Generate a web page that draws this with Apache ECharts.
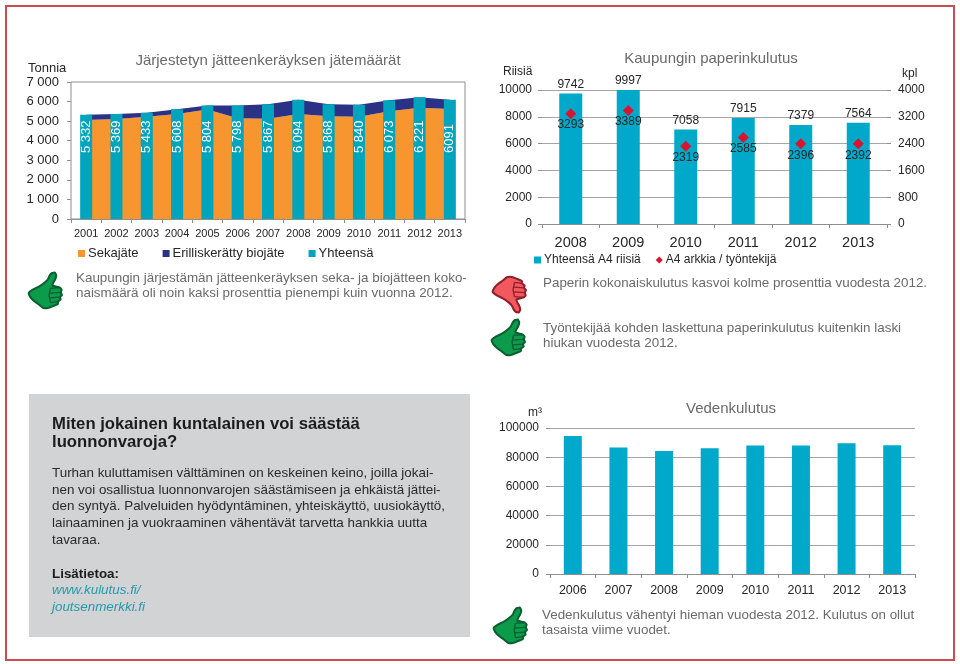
<!DOCTYPE html>
<html>
<head>
<meta charset="utf-8">
<title>Kulutus</title>
<script src="https://cdn.jsdelivr.net/npm/echarts@6/dist/echarts.min.js"></script>
<style>
  html, body { margin: 0; padding: 0; background: #fff; }
  #main { width: 960px; height: 664px; }
</style>
</head>
<body>
<div id="main"></div>
<script>
// jätemäärät
const wasteYears = ['2001', '2002', '2003', '2004', '2005', '2006', '2007', '2008', '2009', '2010', '2011', '2012', '2013'];
const mixedWaste = [5060, 5110, 5230, 5370, 5600, 5150, 5120, 5370, 5250, 5230, 5500, 5680, 5620];
const bioWaste = [272, 259, 203, 238, 204, 648, 747, 724, 618, 610, 573, 541, 471];
const wasteTotal = [5332, 5369, 5433, 5608, 5804, 5798, 5867, 6094, 5868, 5840, 6073, 6221, 6091];
const wasteTotalLabels = ['5 332', '5 369', '5 433', '5 608', '5 804', '5 798', '5 867', '6 094', '5 868', '5 840', '6 073', '6 221', '6091'];

// paperi
const paperYears = ['2008', '2009', '2010', '2011', '2012', '2013'];
const paperReams = [9742, 9997, 7058, 7915, 7379, 7564];
const sheetsPerWorker = [3293, 3389, 2319, 2585, 2396, 2392];

// vesi
const waterYears = ['2006', '2007', '2008', '2009', '2010', '2011', '2012', '2013'];
const waterUse = [94500, 86600, 84300, 86100, 88000, 88000, 89500, 88200];

const FONT = '"Liberation Sans", Arial, sans-serif';
const BLUE = '#00a9c9';
const TEAL = '#00a5bd';
const ORANGE = '#f7952f';
const NAVY = '#2b3184';
const AXIS = '#8f8f8f';
const GRID = '#a6a6a6';
const INK = '#262626';
const GREY = '#6a6a6a';

const spaced = (v) => String(v).replace(/\B(?=(\d{3})+$)/g, ' ');

function catAxis(gridIndex, data, fontSize, margin) {
  return {
    type: 'category', gridIndex, data,
    axisLine: { lineStyle: { color: AXIS } },
    axisTick: { show: true, alignWithLabel: false, length: 4, lineStyle: { color: AXIS } },
    axisLabel: { color: INK, fontFamily: FONT, fontSize, margin, interval: 0 }
  };
}

function valAxis(gridIndex, max, interval, fontSize, margin, extra) {
  return Object.assign({
    type: 'value', gridIndex, min: 0, max, interval,
    axisLine: { show: false },
    axisTick: { show: true, length: 4, lineStyle: { color: AXIS } },
    axisLabel: { color: INK, fontFamily: FONT, fontSize, margin, formatter: (v) => String(v) },
    splitLine: { show: true, lineStyle: { color: GRID } }
  }, extra || {});
}

function titleAt(text, left, top) {
  return { text, left, top, textAlign: 'center', textStyle: { color: GREY, fontFamily: FONT, fontSize: 15, fontWeight: 'normal' } };
}

function textLine(text, x, y, font, fill) {
  return { type: 'text', silent: true, style: { text, x, y, font, fill: fill || GREY, textVerticalAlign: 'middle' } };
}

function textLines(lines, x, y, step, font, fill) {
  return lines.map((t, i) => textLine(t, x, y + i * step, font, fill));
}

// peukalon muoto, graphic ei tunne path-tyyppiä
const HAND = [[2, 62], [14, 52], [32, 43], [48, 32], [58, 22], [64, 10], [71, 3], [79, 2], [83, 10], [80, 22], [74, 32], [72, 40], [94, 46], [99, 52], [96, 60], [100, 67], [94, 74], [96, 81], [88, 87], [88, 94], [80, 98], [58, 106], [44, 105], [30, 94], [16, 84], [7, 74]];
const FINGERS = [
  [[66, 48], [94, 46]],
  [[64, 62], [96, 60]],
  [[64, 76], [94, 74]],
  [[66, 90], [88, 87]],
  [[66, 48], [62, 68], [66, 90]]
];

function thumb(x, y, down) {
  const fill = down ? '#f1595f' : '#0b9b4b';
  const stroke = down ? '#8f1f2b' : '#0b5f30';
  return {
    type: 'group', x, y: down ? y + 36 : y, scaleX: 0.34, scaleY: down ? -0.34 : 0.34, silent: true,
    children: [
      { type: 'polygon', shape: { points: HAND, smooth: 0.15 }, style: { fill, stroke, lineWidth: 6 } },
      ...FINGERS.map((points) => ({ type: 'polyline', shape: { points }, style: { fill: 'none', stroke, lineWidth: 4 } }))
    ]
  };
}

const P13 = '13.4px ' + FONT;

const option = {
  animation: false,
  backgroundColor: '#fff',
  textStyle: { fontFamily: FONT },
  title: [
    titleAt('Järjestetyn jätteenkeräyksen jätemäärät', 263, 48),
    titleAt('Kaupungin paperinkulutus', 706, 46),
    titleAt('Vedenkulutus', 726, 396)
  ],
  legend: [
    {
      left: 73, top: 242, itemWidth: 7, itemHeight: 7, itemGap: 24, icon: 'rect',
      textStyle: { color: INK, fontFamily: FONT, fontSize: 13, padding: [0, 0, 0, -2] },
      data: ['Sekajäte', 'Erilliskerätty biojäte', 'Yhteensä']
    },
    {
      left: 529, top: 249, itemWidth: 7, itemHeight: 7, itemGap: 15,
      textStyle: { color: INK, fontFamily: FONT, fontSize: 12, padding: [0, 0, 0, -2] },
      data: [{ name: 'Yhteensä A4 riisiä', icon: 'rect' }, { name: 'A4 arkkia / työntekijä', icon: 'diamond' }]
    }
  ],
  grid: [
    { left: 71, right: 495, top: 82, height: 137, show: true, borderColor: AXIS, borderWidth: 1, backgroundColor: 'transparent' },
    { left: 542, right: 73, top: 90, height: 134 },
    { left: 550, right: 45, top: 428, height: 146 }
  ],
  xAxis: [
    catAxis(0, wasteYears, 11, 9),
    catAxis(1, paperYears, 14.5, 11),
    catAxis(2, waterYears, 12.5, 10)
  ],
  yAxis: [
    valAxis(0, 7000, 1000, 13, 12, {
      splitLine: { show: false },
      axisLabel: { color: INK, fontFamily: FONT, fontSize: 13, margin: 12, formatter: spaced }
    }),
    valAxis(1, 10000, 2000, 12, 10),
    valAxis(1, 4000, 800, 12, 11, { position: 'right', splitLine: { show: false } }),
    valAxis(2, 100000, 20000, 12, 11)
  ],
  series: [
    {
      name: 'Sekajäte', type: 'line', xAxisIndex: 0, yAxisIndex: 0, stack: 'jate', data: mixedWaste,
      symbol: 'none', lineStyle: { width: 0 }, areaStyle: { color: ORANGE, opacity: 1 }, itemStyle: { color: ORANGE }, z: 2
    },
    {
      name: 'Erilliskerätty biojäte', type: 'line', xAxisIndex: 0, yAxisIndex: 0, stack: 'jate', data: bioWaste,
      symbol: 'none', lineStyle: { width: 0 }, areaStyle: { color: NAVY, opacity: 1 }, itemStyle: { color: NAVY }, z: 2
    },
    {
      name: 'Yhteensä', type: 'bar', xAxisIndex: 0, yAxisIndex: 0, data: wasteTotal, barWidth: 12,
      itemStyle: { color: TEAL }, z: 3,
      label: {
        show: true, position: 'insideBottom', distance: 66, rotate: 90, align: 'left', verticalAlign: 'middle',
        color: '#fff', textBorderWidth: 0, fontFamily: FONT, fontSize: 13,
        formatter: (p) => wasteTotalLabels[p.dataIndex]
      }
    },
    {
      name: 'Yhteensä A4 riisiä', type: 'bar', xAxisIndex: 1, yAxisIndex: 1, data: paperReams, barWidth: 23,
      itemStyle: { color: BLUE },
      label: { show: true, position: 'top', distance: 3, color: INK, fontFamily: FONT, fontSize: 12 }
    },
    {
      name: 'A4 arkkia / työntekijä', type: 'scatter', xAxisIndex: 1, yAxisIndex: 2, data: sheetsPerWorker,
      symbol: 'diamond', symbolSize: 11, itemStyle: { color: '#d9142f', opacity: 1 }, z: 5,
      label: { show: true, position: 'bottom', distance: 0, color: INK, fontFamily: FONT, fontSize: 12 }
    },
    {
      name: 'Vedenkulutus', type: 'bar', xAxisIndex: 2, yAxisIndex: 3, data: waterUse, barWidth: 18,
      itemStyle: { color: BLUE }
    }
  ],
  graphic: [
    { type: 'rect', z: -10, silent: true, shape: { x: 6, y: 6, width: 948, height: 654 }, style: { fill: 'none', stroke: '#cb4b50', lineWidth: 2 } },
    { type: 'rect', z: -10, silent: true, shape: { x: 29, y: 394, width: 441, height: 243 }, style: { fill: '#d1d3d4' } },

    textLine('Tonnia', 28, 68, '13px ' + FONT, INK),
    textLine('Riisiä', 503, 72, '12px ' + FONT, INK),
    textLine('kpl', 902, 74, '12px ' + FONT, INK),
    textLine('m³', 528, 413, '12px ' + FONT, INK),

    ...textLines([
      'Kaupungin järjestämän jätteenkeräyksen seka- ja biojätteen koko-',
      'naismäärä oli noin kaksi prosenttia pienempi kuin vuonna 2012.'
    ], 76, 278, 15.5, P13),
    textLine('Paperin kokonaiskulutus kasvoi kolme prosenttia vuodesta 2012.', 543, 283, P13),
    ...textLines([
      'Työntekijää kohden laskettuna paperinkulutus kuitenkin laski',
      'hiukan vuodesta 2012.'
    ], 543, 328, 15, P13),
    ...textLines([
      'Vedenkulutus vähentyi hieman vuodesta 2012. Kulutus on ollut',
      'tasaista viime vuodet.'
    ], 542, 615, 15.5, P13),

    ...textLines(['Miten jokainen kuntalainen voi säästää', 'luonnonvaroja?'], 52, 424, 18, 'bold 16.7px ' + FONT, '#1c1c1c'),
    ...textLines([
      'Turhan kuluttamisen välttäminen on keskeinen keino, joilla jokai-',
      'nen voi osallistua luonnonvarojen säästämiseen ja ehkäistä jättei-',
      'den syntyä. Palveluiden hyödyntäminen, yhteiskäyttö, uusiokäyttö,',
      'lainaaminen ja vuokraaminen vähentävät tarvetta hankkia uutta',
      'tavaraa.'
    ], 52, 473, 16.9, P13, '#2a2a2a'),
    textLine('Lisätietoa:', 52, 574, 'bold 13.4px ' + FONT, '#1c1c1c'),
    ...textLines(['www.kulutus.fi/', 'joutsenmerkki.fi'], 52, 590, 17, 'italic 13.4px ' + FONT, '#2699ad'),

    thumb(28, 272, false),
    thumb(492, 277, true),
    thumb(491, 319, false),
    thumb(493, 607, false)
  ]
};

const chart = echarts.init(document.getElementById('main'), null, { renderer: 'canvas' });
chart.setOption(option);
window.addEventListener('resize', chart.resize);
</script>
</body>
</html>
